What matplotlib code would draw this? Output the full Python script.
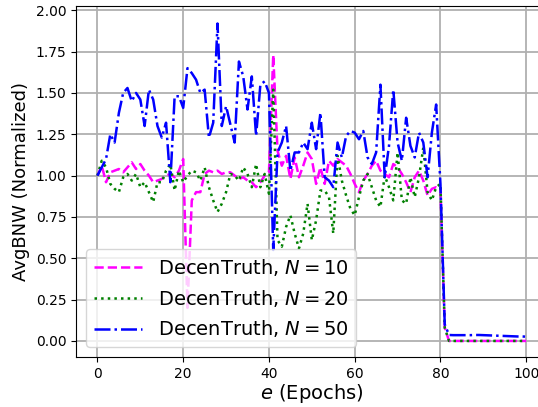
import numpy as np
import matplotlib
matplotlib.use("Agg")
import matplotlib.pyplot as plt

epochs = list(range(101))

n10 = [1.00, 1.06, 0.96, 1.02, 1.03, 1.04, 1.02, 1.05, 1.08, 1.04,
       1.07, 1.03, 1.00, 0.96, 0.97, 0.98, 1.00, 1.01, 0.99, 1.03,
       1.10, 0.20, 0.85, 0.90, 0.90, 1.01, 1.03, 1.02, 1.03, 1.01,
       1.02, 1.02, 1.00, 0.98, 0.99, 0.97, 0.96, 0.93, 0.96, 1.00,
       1.02, 1.73, 1.15, 1.06, 1.12, 0.98, 1.11, 0.99, 1.06, 1.14,
       1.10, 0.95, 1.05, 0.95, 1.09, 1.06, 1.10, 1.08, 1.06, 1.01,
       0.95, 0.90, 0.97, 1.01, 1.06, 1.09, 1.03, 1.01, 0.99, 1.07,
       1.05, 1.01, 0.96, 0.90, 0.99, 1.03, 0.97, 0.88, 0.92, 0.93,
       0.92, 0.08] + [0.0] * 19

n20 = [1.00, 1.09, 1.05, 0.95, 0.92, 0.90, 0.99, 1.01, 0.97, 1.01,
       0.93, 0.96, 0.90, 0.84, 0.96, 0.96, 1.03, 1.07, 0.91, 1.03,
       0.96, 1.00, 1.03, 1.02, 0.97, 1.05, 0.93, 0.85, 0.78, 0.83,
       0.90, 1.01, 1.00, 0.97, 1.05, 1.01, 0.93, 1.07, 0.93, 1.01,
       0.89, 1.52, 0.61, 0.57, 0.69, 0.76, 0.65, 0.56, 0.65, 0.83,
       0.61, 0.73, 0.91, 0.91, 0.87, 0.65, 1.12, 0.97, 0.88, 0.80,
       0.76, 0.87, 0.97, 1.01, 0.93, 0.85, 0.81, 1.00, 0.93, 0.85,
       1.14, 0.85, 0.83, 0.99, 0.87, 0.99, 1.17, 0.90, 0.85, 0.93,
       0.95, 0.08] + [0.0] * 19

n50 = [1.00, 1.05, 1.10, 1.25, 1.20, 1.38, 1.50, 1.53, 1.45, 1.50,
       1.46, 1.30, 1.52, 1.46, 1.30, 1.23, 1.32, 0.96, 1.48, 1.48,
       1.41, 1.65, 1.62, 1.58, 1.50, 1.52, 1.23, 1.32, 1.92, 1.30,
       1.42, 1.31, 1.20, 1.69, 1.60, 1.40, 1.60, 1.24, 1.55, 1.57,
       1.50, 0.55, 1.14, 1.20, 1.30, 1.03, 1.14, 1.14, 1.20, 1.16,
       1.32, 1.16, 1.38, 0.99, 0.97, 0.93, 1.20, 1.11, 1.24, 1.27,
       1.26, 1.22, 1.27, 1.11, 1.07, 1.14, 1.55, 0.99, 1.18, 1.52,
       1.20, 1.09, 1.35, 1.18, 1.11, 1.26, 1.20, 0.99, 1.26, 1.43,
       0.95, 0.10, 0.036, 0.035, 0.035, 0.035, 0.035, 0.035, 0.036, 0.036,
       0.035, 0.034, 0.033, 0.032, 0.031, 0.030, 0.029, 0.028, 0.027, 0.027,
       0.026]

labels = ["DecenTruth, $N=10$", "DecenTruth, $N=20$", "DecenTruth, $N=50$"]

fig = plt.figure(figsize=(5.38, 4.07), dpi=100)
ax = fig.add_axes([0.1413, 0.1229, 0.8766, 0.8624])
ax.plot(epochs, n10, color="magenta", linestyle="--", linewidth=1.8, label=labels[0])
ax.plot(epochs, n20, color="green", linestyle=":", linewidth=1.8, label=labels[1])
ax.plot(epochs, n50, color="blue", linestyle="-.", linewidth=1.8, label=labels[2])

ax.set_xlim(-5, 105)
ax.set_ylim(-0.097, 2.026)
ax.set_xticks([0, 20, 40, 60, 80, 100])
ax.set_yticks([0.0, 0.25, 0.5, 0.75, 1.0, 1.25, 1.5, 1.75, 2.0])
ax.yaxis.set_major_formatter(matplotlib.ticker.FormatStrFormatter("%.2f"))
ax.tick_params(labelsize=10)
ax.spines["right"].set_visible(False)
ax.grid(True, color="#b0b0b0", linewidth=1.3)
ax.set_axisbelow(True)
ax.set_xlabel("$e$ (Epochs)", fontsize=14, labelpad=1)
ax.set_ylabel("AvgBNW (Normalized)", fontsize=13)
ax.legend(loc="lower left", fontsize=14, handlelength=2.5)

fig.savefig("out.png", dpi=100)
